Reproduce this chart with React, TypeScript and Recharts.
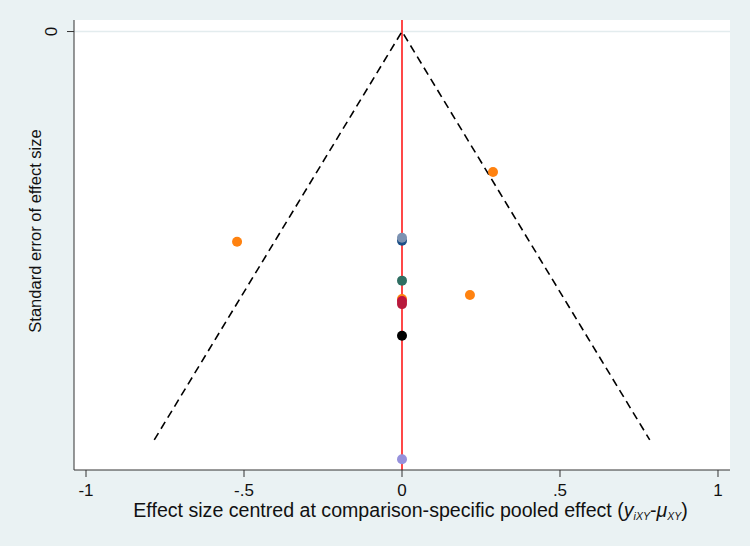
import { ScatterChart, Scatter, XAxis, YAxis, ReferenceLine, Cell } from 'recharts'

// centred effect sizes and their standard errors (one entry per study)
const effects = [0.288, -0.522, 0.215, 0, 0, 0, 0, 0, 0, 0, 0]
const stdErrors = [0.1376, 0.206, 0.258, 0.205, 0.202, 0.244, 0.262, 0.264, 0.267, 0.298, 0.419]
const dotColors = ['#ff8210', '#ff8210', '#ff8210', '#1c4f86', '#7c92b2', '#2f6e62', '#ff8210', '#c0113f', '#b81a3c', '#000000', '#9691dc']

// pseudo 95% confidence limits of the funnel
const funnelX = [-0.784, 0, 0.784]
const funnelSE = [0.4, 0, 0.4]

const xTicks = [-1, -0.5, 0, 0.5, 1]
const yTicks = [0]

const points = effects.map((x, i) => ({ x, y: stdErrors[i] }))
const funnel = funnelX.map((x, i) => ({ x, y: funnelSE[i] }))

const font = 'Liberation Sans, Arial, Helvetica, sans-serif'

const fmt = (v: number) => {
  if (v === 0) return '0'
  return String(v).replace(/^(-?)0\./, '$1.')
}

const Dot = (props: any) => <circle cx={props.cx} cy={props.cy} r={5} fill={props.fill} />

const NoDot = () => <g />

const XTick = (props: any) => (
  <text x={props.x} y={496} textAnchor='middle' fontSize={17} fontFamily={font} fill='#111'>
    {fmt(props.payload.value)}
  </text>
)

// stata draws y labels turned on their side
const YTick = (props: any) => (
  <text
    x={57}
    y={props.y}
    textAnchor='middle'
    fontSize={17}
    fontFamily={font}
    fill='#111'
    transform={`rotate(-90, 57, ${props.y})`}
  >
    {fmt(props.payload.value)}
  </text>
)

export default function App() {
  return (
    <div style={{ position: 'absolute', left: 0, top: 0, background: '#eaf2f3', width: 750, height: 546, fontFamily: font }}>
      <ScatterChart width={750} height={546} margin={{ top: 20, right: 20, bottom: 0, left: 0 }}>
        <rect x={74} y={20} width={656} height={450} fill='#ffffff' />
        <XAxis
          type='number'
          dataKey='x'
          domain={[-1.038, 1.038]}
          ticks={xTicks}
          height={76}
          stroke='#333333'
          tickSize={7}
          tick={XTick}
          label={() => (
            <text x={410.5} y={517} textAnchor='middle' fontSize={19.6} fontFamily={font} fill='#111'>
              Effect size centred at comparison-specific pooled effect (
              <tspan fontStyle='italic'>y</tspan>
              <tspan fontStyle='italic' fontSize={10.5} dy={3}>iXY</tspan>
              <tspan dy={-3}>-</tspan>
              <tspan fontStyle='italic'>μ</tspan>
              <tspan fontStyle='italic' fontSize={10.5} dy={3}>XY</tspan>
              <tspan dy={-3}>)</tspan>
            </text>
          )}
        />
        <YAxis
          type='number'
          dataKey='y'
          reversed
          domain={[-0.0113, 0.4295]}
          ticks={yTicks}
          width={74}
          stroke='#333333'
          tickSize={7}
          tick={YTick}
          label={() => (
            <text
              x={41}
              y={231}
              textAnchor='middle'
              fontSize={16.5}
              fontFamily={font}
              fill='#111'
              transform='rotate(-90, 41, 231)'
            >
              Standard error of effect size
            </text>
          )}
        />
        <ReferenceLine y={0} stroke='#e3ecee' strokeWidth={1.5} />
        <ReferenceLine x={0} stroke='#ff1a1a' strokeWidth={1.6} />
        <Scatter
          data={funnel}
          isAnimationActive={false}
          line={{ stroke: '#000', strokeWidth: 1.6, strokeDasharray: '8 5' }}
          shape={NoDot}
        />
        <Scatter data={points} isAnimationActive={false} shape={Dot}>
          {points.map((_, i) => (
            <Cell key={i} fill={dotColors[i]} />
          ))}
        </Scatter>
      </ScatterChart>
    </div>
  )
}
